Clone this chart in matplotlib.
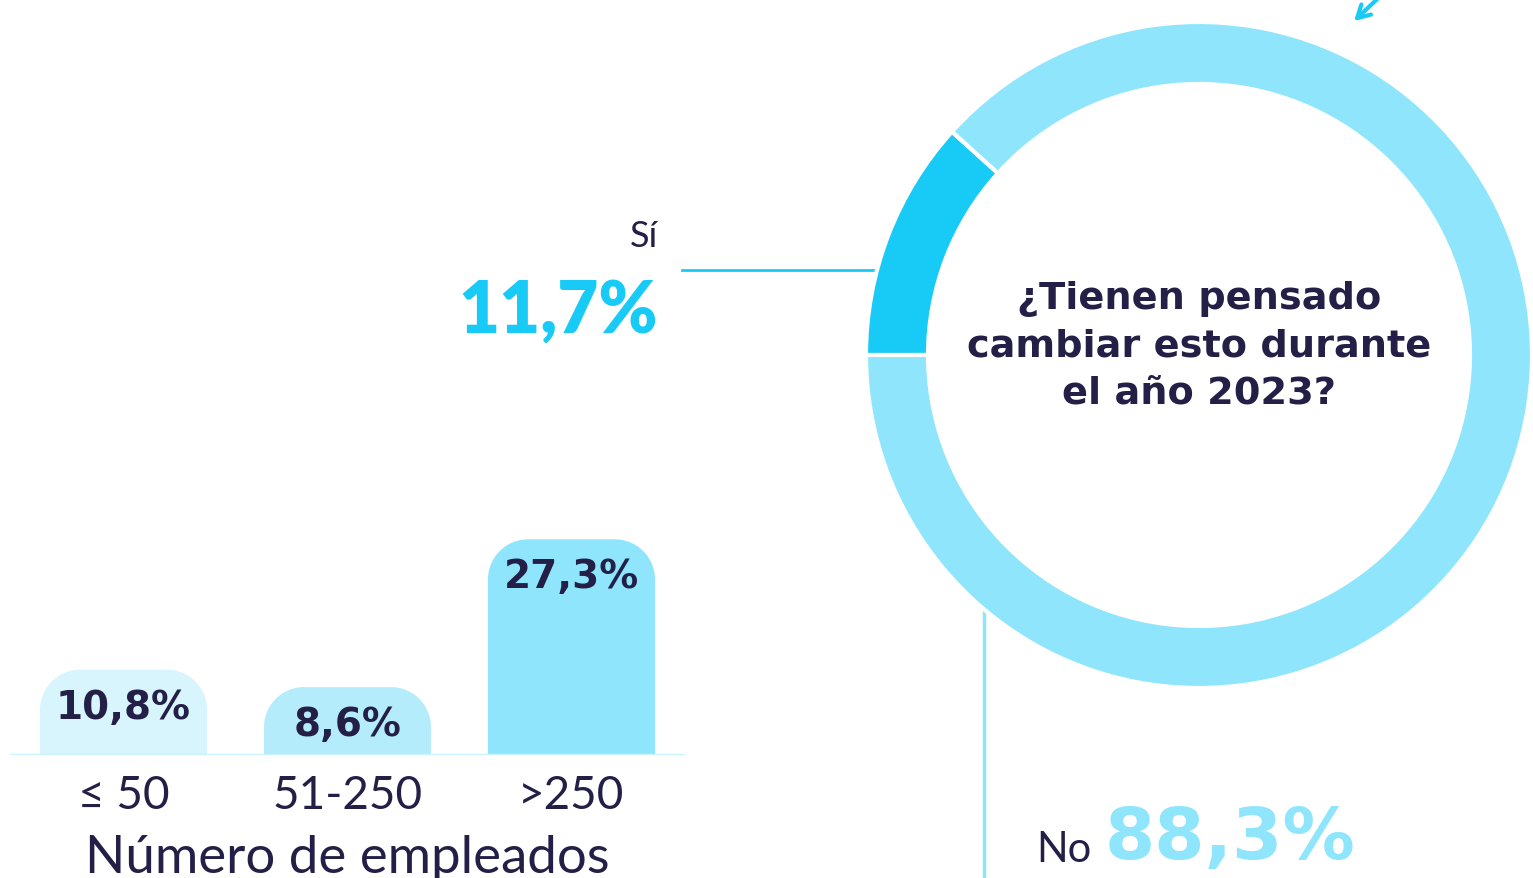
import numpy as np
import matplotlib
matplotlib.use("Agg")
import matplotlib.pyplot as plt
from matplotlib.patches import Polygon

# data
categories = ["≤ 50", "51-250", ">250"]
bar_values = [10.8, 8.6, 27.3]
bar_labels = ["10,8%", "8,6%", "27,3%"]
pie_labels = ["Sí", "No"]
pie_values = [11.7, 88.3]
pie_texts = ["11,7%", "88,3%"]
question = "¿Tienen pensado\ncambiar esto durante\nel año 2023?"
xlabel = "Número de empleados"

NAVY = "#231f46"
CYAN = "#18cbf6"
LIGHT = "#8ee5fc"
bar_colors = ["#d8f5fd", "#b5ecfb", "#8ee5fc"]

W, H = 1533, 879
fig = plt.figure(figsize=(W / 100, H / 100), dpi=100)
fig.patch.set_facecolor("white")


def px_axes(x0, y0, x1, y1, **kw):
    # axes from pixel box (top-left origin)
    return fig.add_axes([x0 / W, 1 - y1 / H, (x1 - x0) / W, (y1 - y0) / H], **kw)


def round_top(x0, w, h, rx, ry, n=20):
    # outline of a bar with rounded top corners
    t = np.linspace(0, np.pi / 2, n)
    left = np.c_[x0 + rx - rx * np.cos(t), h - ry + ry * np.sin(t)]
    right = np.c_[x0 + w - rx + rx * np.sin(t), h - ry + ry * np.cos(t)]
    return np.vstack([[x0, 0], left, right, [x0 + w, 0]])


# ---- overlay for annotations (behind) ----
ov = fig.add_axes([0, 0, 1, 1])
ov.set_xlim(0, W)
ov.set_ylim(H, 0)
ov.axis("off")

# ---- bars ----
pps = 7.9        # px per percent
step = 224       # px per category
ax = px_axes(10, 400, 685, 756)
ax.patch.set_alpha(0)
ax.set_xlim((10 - 123.5) / step, (685 - 123.5) / step)
ax.set_ylim(0, (756 - 400) / pps)
x = np.arange(len(categories))
bars = ax.bar(x, bar_values, width=167 / step, color=bar_colors)
r_px = 40
for b, c, lab in zip(bars, bar_colors, bar_labels):
    x0, w, h = b.get_x(), b.get_width(), b.get_height()
    b.set_visible(False)
    ax.add_patch(Polygon(round_top(x0, w, h, r_px / step, r_px / pps),
                         closed=True, fc=c, ec="none"))
    ax.text(x0 + w / 2, h - 37 / pps, lab, ha="center", va="center",
            fontsize=28, fontweight="bold", color=NAVY, family="DejaVu Sans")
ax.axhline(0, color="#c9f3fd", lw=2.5, zorder=5)
ax.set_xticks(x, categories)
ax.tick_params(axis="x", length=0, pad=14, labelsize=33, labelcolor=NAVY)
ax.set_yticks([])
for s in ax.spines.values():
    s.set_visible(False)
ax.set_xlabel(xlabel, fontsize=38, color=NAVY, labelpad=13)
for t in ax.get_xticklabels() + [ax.xaxis.label]:
    t.set_family("Lato")
    t.set_fontweight("normal")

# ---- donut ----
cx, cy, R = 1199, 356, 333
pax = px_axes(cx - R, cy - R, cx + R, cy + R)
pax.patch.set_alpha(0)
start = 180 - pie_values[0] * 3.6
pax.pie(pie_values, colors=[CYAN, LIGHT], startangle=start, counterclock=True,
        radius=1, wedgeprops=dict(width=62 / R, edgecolor="white", linewidth=3))
pax.set_xlim(-1, 1)
pax.set_ylim(-1, 1)
pax.set_aspect("equal")
pax.axis("off")
pax.text(0, 0.03, question, ha="center", va="center", fontsize=27.5,
         fontweight="bold", color=NAVY, linespacing=1.4, family="DejaVu Sans")

# ---- labels and leader lines ----
ov.plot([682, 878], [271, 271], color=CYAN, lw=2)
ov.plot([984, 984], [605, H], color=LIGHT, lw=2.5)
ov.text(658, 237, pie_labels[0], ha="right", va="center", fontsize=26,
        color=NAVY, family="Lato")
ov.text(658, 312, pie_texts[0], ha="right", va="center", fontsize=51,
        color=CYAN, fontweight="heavy", family="Lato")
ov.text(1092, 850, pie_labels[1], ha="right", va="center", fontsize=30,
        color=NAVY, family="Lato")
ov.text(1105, 840, pie_texts[1], ha="left", va="center", fontsize=52,
        color=LIGHT, fontweight="bold", family="DejaVu Sans")
ov.annotate("", xy=(1352, 24), xytext=(1392, -14),
            arrowprops=dict(arrowstyle="->,head_length=0.9,head_width=0.5",
                            color=CYAN, lw=3))

fig.savefig("out.png", dpi=100, facecolor="white")
